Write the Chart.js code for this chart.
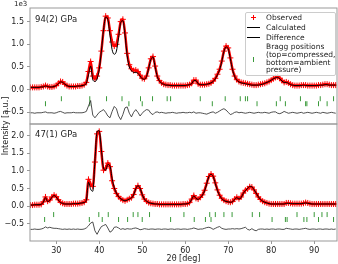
<!DOCTYPE html>
<html>
<head>
<meta charset="utf-8">
<script src="https://cdn.jsdelivr.net/npm/chart.js@4.4.1/dist/chart.umd.min.js"></script>
<style>
body { margin: 0; background: #fff; font-family: 'DejaVu Sans', sans-serif; color: #222; }
#wrap { position: relative; width: 338px; height: 264px; overflow: hidden; }
#wrap canvas { position: absolute; left: 0; }
.txt { position: absolute; white-space: nowrap; }
.panel { font-size: 8.5px; line-height: 10px; }
#offset { left: 14px; top: 0px; font-size: 7px; line-height: 8px; }
#ylabel { position: absolute; left: -44px; top: 121px; width: 100px; text-align: center; font-size: 8px; line-height: 10px; transform: rotate(-90deg); }
#legend { position: absolute; left: 245px; top: 12px; width: 89px; height: 62px; border: 1px solid #ccc; border-radius: 2px; background: rgba(255,255,255,0.8); font-size: 7.5px; }
#legend .lt { position: absolute; left: 20px; white-space: nowrap; line-height: 10px; }
#legend .ml { line-height: 7.8px; }
.hline { position: absolute; left: 1px; width: 13px; height: 0; border-top: 1.2px solid #000; }
.plus-h { position: absolute; left: 5px; width: 5px; height: 1px; background: #ff0000; }
.plus-v { position: absolute; left: 7px; width: 1px; height: 5px; background: #ff0000; }
.gtick { position: absolute; left: 7px; width: 1px; height: 5px; background: #3a9a3a; }
</style>
</head>
<body>
<div id="wrap">
  <canvas id="chart-top" width="338" height="125" style="top:0"></canvas>
  <canvas id="chart-bottom" width="338" height="141" style="top:123px"></canvas>
  <div class="txt" id="offset">1e3</div>
  <div class="txt panel" style="left:35px;top:14px">94(2) GPa</div>
  <div class="txt panel" style="left:35px;top:129px">47(1) GPa</div>
  <div id="ylabel">Intensity [a.u.]</div>
  <div id="legend">
    <div class="plus-h" style="top:4px"></div><div class="plus-v" style="top:2px"></div>
    <div class="lt" style="top:0px">Observed</div>
    <div class="hline" style="top:14px"></div>
    <div class="lt" style="top:10px">Calculated</div>
    <div class="hline" style="top:24px"></div>
    <div class="lt" style="top:20px">Difference</div>
    <div class="gtick" style="top:44px"></div>
    <div class="lt ml" style="top:30px">Bragg positions<br>(top=compressed,<br>bottom=ambient<br>pressure)</div>
  </div>
</div>
<script>
// 2theta grid (deg), shared by both patterns
var twoTheta = [
  24,24.5,25,25.5,26,26.5,27,27.5,28,28.5,
  29,29.5,30,30.5,31,31.5,32,32.5,33,33.5,
  34,34.5,35,35.5,36,36.5,37,37.5,38,38.5,
  39,39.5,40,40.5,41,41.5,42,42.5,43,43.5,
  44,44.5,45,45.5,46,46.5,47,47.5,48,48.5,
  49,49.5,50,50.5,51,51.5,52,52.5,53,53.5,
  54,54.5,55,55.5,56,56.5,57,57.5,58,58.5,
  59,59.5,60,60.5,61,61.5,62,62.5,63,63.5,
  64,64.5,65,65.5,66,66.5,67,67.5,68,68.5,
  69,69.5,70,70.5,71,71.5,72,72.5,73,73.5,
  74,74.5,75,75.5,76,76.5,77,77.5,78,78.5,
  79,79.5,80,80.5,81,81.5,82,82.5,83,83.5,
  84,84.5,85,85.5,86,86.5,87,87.5,88,88.5,
  89,89.5,90,90.5,91,91.5,92,92.5,93,93.5,
  94,94.5,95
];

// 94(2) GPa, intensities in units of 1e3
var obs94 = [
  .05,.05,.05,.05,.05,.06,.07,.09,.07,.06,
  .06,.07,.09,.14,.18,.17,.12,.09,.07,.07,
  .07,.07,.08,.08,.09,.11,.16,.40,.62,.30,
  .24,.30,.48,.85,1.30,1.62,1.58,1.30,1.05,.96,
  1.00,1.22,1.50,1.55,1.25,.80,.55,.46,.42,.43,
  .40,.32,.25,.24,.30,.48,.68,.73,.52,.30,
  .20,.15,.12,.11,.10,.10,.09,.09,.09,.09,
  .09,.09,.09,.10,.11,.14,.21,.21,.13,.11,
  .11,.11,.12,.13,.15,.19,.25,.34,.45,.63,
  .85,.96,.92,.70,.45,.30,.22,.18,.16,.15,
  .14,.13,.12,.11,.10,.10,.11,.12,.13,.14,
  .16,.18,.21,.24,.27,.28,.25,.20,.16,.17,
  .15,.12,.10,.09,.09,.09,.10,.10,.10,.09,
  .09,.09,.09,.09,.10,.10,.11,.12,.12,.11,
  .10,.10,.10
];
var calc94 = [
  .05,.05,.05,.05,.05,.06,.06,.08,.07,.06,
  .06,.07,.09,.13,.17,.16,.12,.09,.07,.07,
  .07,.07,.08,.08,.09,.10,.14,.33,.52,.22,
  .18,.24,.45,.85,1.32,1.60,1.55,1.20,.88,.78,
  .85,1.15,1.48,1.52,1.20,.75,.50,.42,.38,.38,
  .36,.30,.24,.23,.29,.47,.66,.72,.50,.29,
  .19,.14,.12,.10,.10,.09,.09,.09,.09,.09,
  .09,.09,.09,.10,.11,.13,.20,.20,.13,.11,
  .11,.11,.12,.13,.15,.18,.24,.33,.44,.62,
  .84,.94,.90,.68,.44,.29,.21,.17,.15,.14,
  .13,.12,.11,.10,.10,.10,.10,.11,.12,.14,
  .16,.18,.21,.24,.26,.27,.24,.19,.16,.16,
  .14,.11,.10,.09,.09,.09,.09,.10,.09,.09,
  .09,.09,.09,.09,.09,.10,.10,.11,.11,.10,
  .10,.10,.10
];
var diff94 = [
  -.51,-.51,-.52,-.51,-.51,-.51,-.50,-.49,-.51,-.51,
  -.51,-.52,-.51,-.49,-.48,-.50,-.52,-.51,-.51,-.51,
  -.50,-.51,-.51,-.51,-.51,-.50,-.48,-.36,-.24,-.56,
  -.62,-.56,-.50,-.47,-.44,-.50,-.58,-.62,-.48,-.37,
  -.42,-.58,-.66,-.55,-.40,-.38,-.52,-.60,-.50,-.44,
  -.50,-.58,-.52,-.47,-.44,-.45,-.52,-.55,-.50,-.49,
  -.51,-.50,-.51,-.52,-.51,-.51,-.50,-.51,-.52,-.51,
  -.51,-.50,-.51,-.51,-.50,-.51,-.49,-.52,-.51,-.51,
  -.52,-.53,-.54,-.52,-.50,-.49,-.52,-.50,-.47,-.44,
  -.42,-.45,-.50,-.55,-.53,-.50,-.49,-.51,-.50,-.51,
  -.52,-.51,-.50,-.51,-.52,-.51,-.50,-.51,-.51,-.50,
  -.51,-.52,-.50,-.49,-.49,-.52,-.53,-.51,-.48,-.50,
  -.52,-.51,-.50,-.51,-.52,-.51,-.50,-.52,-.51,-.50,
  -.51,-.52,-.51,-.50,-.51,-.52,-.50,-.51,-.52,-.51,
  -.50,-.51,-.52
];
var braggCompr94 = [31.2, 37.8, 41.7, 45.3, 49.6, 52.4, 55.8, 56.6, 63.5, 69.3, 72.8, 74, 74.5, 82.1, 86.8, 91.4, 94.5];
var braggAmb94 = [27.5, 37.8, 46.9, 50, 66.3, 76.7, 81.2, 83.3, 88, 88.3, 91, 93];

// 47(1) GPa
var obs47 = [
  .03,.03,.04,.04,.04,.05,.12,.26,.14,.17,
  .26,.31,.27,.18,.11,.08,.06,.06,.06,.06,
  .07,.07,.07,.08,.09,.11,.18,.76,.62,.56,
  1.25,2.05,2.12,1.55,1.02,1.08,1.22,1.12,.72,.50,
  .36,.27,.21,.17,.15,.18,.21,.24,.33,.50,
  .58,.50,.32,.20,.14,.10,.08,.07,.06,.06,
  .05,.05,.05,.05,.05,.05,.05,.05,.05,.05,
  .05,.06,.06,.07,.10,.20,.30,.22,.20,.25,
  .32,.45,.65,.84,.91,.85,.66,.46,.31,.22,
  .17,.14,.12,.11,.13,.20,.25,.21,.26,.37,
  .45,.49,.55,.54,.46,.36,.26,.19,.14,.11,
  .09,.07,.06,.06,.06,.06,.06,.06,.06,.09,
  .09,.08,.07,.07,.07,.07,.07,.08,.10,.09,
  .07,.06,.06,.06,.06,.06,.06,.06,.06,.06,
  .06,.06,.06
];
var calc47 = [
  .03,.03,.04,.04,.04,.05,.11,.24,.13,.16,
  .25,.30,.26,.17,.10,.08,.06,.06,.06,.06,
  .07,.07,.07,.08,.09,.10,.16,.68,.48,.42,
  1.30,2.12,2.14,1.60,1.08,1.02,1.18,1.14,.78,.52,
  .37,.27,.21,.17,.15,.17,.20,.23,.32,.49,
  .58,.51,.33,.20,.14,.10,.08,.07,.06,.06,
  .05,.05,.05,.05,.05,.05,.05,.05,.05,.05,
  .05,.06,.06,.07,.09,.19,.29,.22,.19,.24,
  .31,.43,.63,.84,.90,.84,.64,.44,.30,.21,
  .16,.13,.12,.11,.12,.19,.24,.20,.24,.36,
  .44,.50,.56,.55,.47,.37,.27,.19,.14,.11,
  .09,.07,.06,.06,.06,.06,.06,.06,.06,.08,
  .08,.07,.07,.07,.07,.07,.07,.08,.09,.08,
  .07,.06,.06,.06,.06,.06,.06,.06,.06,.06,
  .06,.06,.06
];
var diff47 = [
  -.66,-.66,-.65,-.66,-.66,-.65,-.63,-.59,-.62,-.60,
  -.62,-.63,-.63,-.64,-.65,-.66,-.65,-.66,-.65,-.66,
  -.65,-.66,-.65,-.66,-.66,-.65,-.62,-.56,-.48,-.45,
  -.70,-.80,-.68,-.58,-.55,-.52,-.62,-.74,-.70,-.60,
  -.59,-.62,-.66,-.64,-.66,-.64,-.65,-.65,-.63,-.62,
  -.64,-.67,-.66,-.64,-.65,-.66,-.65,-.65,-.66,-.65,
  -.65,-.66,-.65,-.65,-.66,-.65,-.65,-.66,-.65,-.65,
  -.66,-.65,-.65,-.66,-.65,-.64,-.62,-.64,-.66,-.65,
  -.65,-.63,-.61,-.60,-.62,-.66,-.63,-.60,-.58,-.63,
  -.65,-.66,-.65,-.65,-.64,-.65,-.64,-.65,-.64,-.62,
  -.60,-.66,-.68,-.64,-.68,-.70,-.66,-.65,-.65,-.66,
  -.65,-.66,-.65,-.65,-.66,-.65,-.65,-.66,-.66,-.63,
  -.64,-.65,-.66,-.65,-.65,-.66,-.65,-.64,-.63,-.65,
  -.66,-.65,-.65,-.66,-.65,-.65,-.66,-.65,-.65,-.66,
  -.65,-.66,-.65
];
var braggCompr47 = [29.4, 39.9, 42.1, 47.9, 49, 51.7, 59.7, 65.7, 67, 69, 70.9, 75.6, 77.3, 86, 90, 91.8, 93];
var braggAmb47 = [27.3, 37.7, 40.7, 44.5, 46.6, 50, 56.6, 62.1, 64.7, 66, 80.2, 83.3, 83.7, 87.6, 88.3, 91, 94.5];

var xTicks = [30, 40, 50, 60, 70, 80, 90];

Chart.defaults.font.family = "'DejaVu Sans', sans-serif";
Chart.defaults.font.size = 8;
Chart.defaults.color = '#222';

var framePlugin = {
    id: 'frame',
    afterDraw: function(chart) {
        var a = chart.chartArea, ctx = chart.ctx;
        ctx.save();
        ctx.strokeStyle = '#999';
        ctx.lineWidth = 1;
        ctx.strokeRect(a.left, a.top, a.right - a.left, a.bottom - a.top);
        ctx.restore();
    }
};

function pts(ys) {
    return ys.map(function(y, i) { return { x: twoTheta[i], y: y }; });
}

function rowPts(xs, level) {
    return xs.map(function(x) { return { x: x, y: level }; });
}

function fmtY(v) {
    return (v < -1e-9 ? '\u2212' : '') + Math.abs(v).toFixed(1);
}

function makePanel(id, obs, calc, diff, compr, amb, rows, yMin, yMax, showX) {
    var ctx = document.getElementById(id).getContext('2d');
    return new Chart(ctx, {
        type: 'scatter',
        data: {
            datasets: [{
                label: 'Calculated',
                data: pts(calc),
                showLine: true,
                borderColor: '#000',
                borderWidth: 1,
                pointRadius: 0,
                cubicInterpolationMode: 'monotone',
                order: 0
            }, {
                label: 'Observed',
                data: pts(obs),
                showLine: true,
                borderColor: '#ff0000',
                borderWidth: 2.5,
                pointStyle: 'cross',
                pointRadius: 3,
                pointBorderWidth: 1,
                pointBorderColor: '#ff0000',
                pointBackgroundColor: '#ff0000',
                cubicInterpolationMode: 'monotone',
                order: 1
            }, {
                label: 'Difference',
                data: pts(diff),
                showLine: true,
                borderColor: '#222',
                borderWidth: 0.8,
                pointRadius: 0,
                order: 0
            }, {
                label: 'Bragg compressed',
                data: rowPts(compr, rows[0]),
                pointStyle: 'line',
                rotation: 90,
                pointRadius: 2.5,
                borderWidth: 1,
                borderColor: '#3a9a3a',
                order: 2
            }, {
                label: 'Bragg ambient',
                data: rowPts(amb, rows[1]),
                pointStyle: 'line',
                rotation: 90,
                pointRadius: 2.5,
                borderWidth: 1,
                borderColor: '#3a9a3a',
                order: 2
            }]
        },
        options: {
            responsive: false,
            animation: false,
            events: [],
            layout: {
                autoPadding: false,
                padding: showX ? { top: 1, right: 1, bottom: 0, left: 0 } : { top: 8, right: 1, bottom: 1, left: 0 }
            },
            plugins: { legend: { display: false }, tooltip: { enabled: false } },
            scales: {
                x: {
                    type: 'linear',
                    min: 23.9,
                    max: 95.3,
                    display: showX,
                    afterFit: function(s) {
                        s.height = showX ? 23 : 0;
                        s.paddingLeft = 0; s.paddingRight = 0;
                    },
                    afterBuildTicks: function(s) { s.ticks = xTicks.map(function(v) { return { value: v }; }); },
                    border: { display: false },
                    grid: { drawOnChartArea: false, tickLength: 3, color: '#999' },
                    ticks: { padding: 2, maxRotation: 0, font: { size: 8 } },
                    title: { display: true, text: '2θ [deg]', font: { size: 8 }, padding: { top: 1, bottom: 0 } }
                },
                y: {
                    min: yMin,
                    max: yMax,
                    afterFit: function(s) {
                        s.width = 30;
                        s.paddingTop = 0; s.paddingBottom = 0;
                    },
                    border: { display: false },
                    grid: { drawOnChartArea: false, tickLength: 3, color: '#999' },
                    ticks: { stepSize: 0.5, includeBounds: false, padding: 3, font: { size: 8 }, callback: fmtY }
                }
            }
        },
        plugins: [framePlugin]
    });
}

makePanel('chart-top', obs94, calc94, diff94, braggCompr94, braggAmb94, [-0.2, -0.31], -0.757, 1.80, false);
makePanel('chart-bottom', obs47, calc47, diff47, braggCompr47, braggAmb47, [-0.24, -0.38], -0.99, 2.33, true);
</script>
</body>
</html>
